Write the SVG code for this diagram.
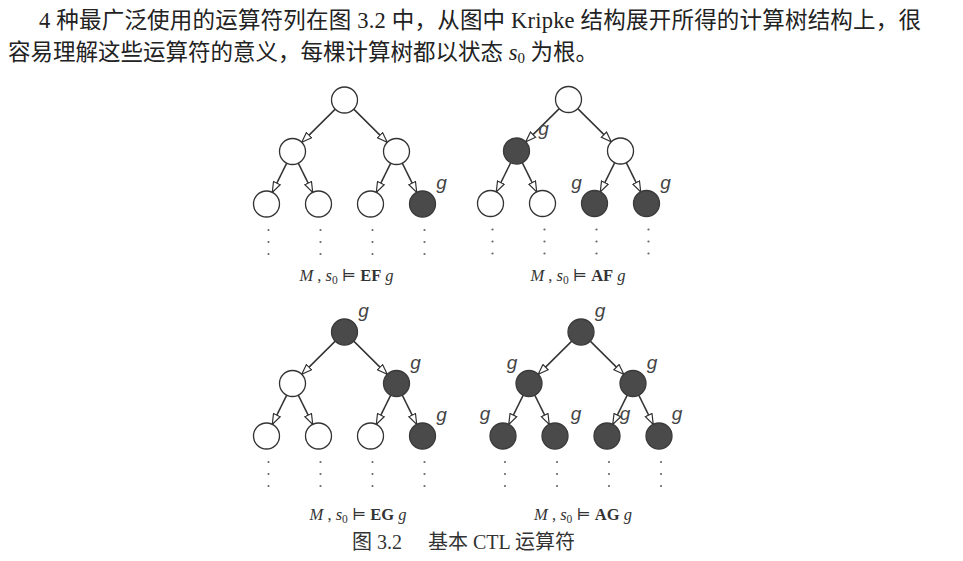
<svg xmlns="http://www.w3.org/2000/svg" width="963" height="561" viewBox="0 0 963 561">
<style>
.bg{fill:#fff}
.para{font-family:"Liberation Serif","Noto Sans CJK SC",serif;font-size:22.5px;fill:#222}
.cap{font-family:"Liberation Serif","Noto Sans CJK SC",serif;font-size:20px;fill:#333}
.lab{font-family:"Liberation Serif","DejaVu Serif",serif;font-size:16.5px;fill:#333}
.it{font-style:italic}
.bf{font-weight:bold}
.sub{font-size:11.5px}
.psub{font-size:15px}
.edge{stroke:#333;stroke-width:1.5;fill:none;marker-end:url(#arr)}
.w{fill:#fff;stroke:#333;stroke-width:1.3}
.d{fill:#4a4a4a;stroke:#3a3a3a;stroke-width:1.3}
.gl{font-family:"Liberation Sans","DejaVu Sans",sans-serif;font-style:italic;font-size:19px;fill:#444;text-anchor:middle}
.dot{fill:#666}
</style>
<defs>
<marker id="arr" viewBox="0 0 12 9" refX="11" refY="4.5" markerWidth="12" markerHeight="9" markerUnits="userSpaceOnUse" orient="auto">
<path d="M0.7,0.8 L11,4.5 L0.7,8.2 z" fill="#fff" stroke="#333" stroke-width="1.2"/>
</marker>
<g id="edges">
<line x1="-9.24" y1="9.15" x2="-42.76" y2="42.35"/>
<line x1="9.24" y1="9.15" x2="42.76" y2="42.35"/>
<line x1="-57.77" y1="63.15" x2="-72.23" y2="92.35"/>
<line x1="-46.23" y1="63.15" x2="-31.77" y2="92.35"/>
<line x1="46.23" y1="63.15" x2="31.77" y2="92.35"/>
<line x1="57.77" y1="63.15" x2="72.23" y2="92.35"/>
</g>
<g id="dots3">
<circle cx="0" cy="130" r="1.1"/>
<circle cx="0" cy="142" r="1.1"/>
<circle cx="0" cy="154" r="1.1"/>
</g>
</defs>
<rect class="bg" x="0" y="0" width="963" height="561"/>

<text class="para" x="39" y="28" textLength="882" lengthAdjust="spacing">4 种最广泛使用的运算符列在图 3.2 中，从图中 Kripke 结构展开所得的计算树结构上，很</text>
<text class="para" x="8" y="60">容易理解这些运算符的意义，每棵计算树都以状态 <tspan class="it">s</tspan><tspan class="psub" dy="3">0</tspan><tspan dy="-3"> 为根。</tspan></text>

<!-- Tree EF -->
<g id="tree-EF" transform="translate(344.5,100)">
<g id="EF-connectors" class="edge"><use href="#edges"/></g>
<g id="EF-root"><circle class="w" cx="0" cy="0" r="13"/></g>
<g id="EF-n1"><circle class="w" cx="-52" cy="51.5" r="13"/></g>
<g id="EF-n2"><circle class="w" cx="52" cy="51.5" r="13"/></g>
<g id="EF-n11"><circle class="w" cx="-78" cy="104" r="13"/></g>
<g id="EF-n12"><circle class="w" cx="-26" cy="104" r="13"/></g>
<g id="EF-n21"><circle class="w" cx="26" cy="104" r="13"/></g>
<g id="EF-n22"><circle class="d" cx="78" cy="104" r="13"/><text class="gl" x="97" y="89">g</text></g>
<g id="EF-dots" class="dot"><use href="#dots3" x="-76"/><use href="#dots3" x="-24"/><use href="#dots3" x="28"/><use href="#dots3" x="80"/></g>
</g>

<!-- Tree AF -->
<g id="tree-AF" transform="translate(568.5,99.5)">
<g id="AF-connectors" class="edge"><use href="#edges"/></g>
<g id="AF-root"><circle class="w" cx="0" cy="0" r="13"/></g>
<g id="AF-n1"><circle class="d" cx="-52" cy="51.5" r="13"/><text class="gl" x="-25" y="35">g</text></g>
<g id="AF-n2"><circle class="w" cx="52" cy="51.5" r="13"/></g>
<g id="AF-n11"><circle class="w" cx="-78" cy="104" r="13"/></g>
<g id="AF-n12"><circle class="w" cx="-26" cy="104" r="13"/></g>
<g id="AF-n21"><circle class="d" cx="26" cy="104" r="13"/><text class="gl" x="8" y="89">g</text></g>
<g id="AF-n22"><circle class="d" cx="78" cy="104" r="13"/><text class="gl" x="97" y="89">g</text></g>
<g id="AF-dots" class="dot"><use href="#dots3" x="-76"/><use href="#dots3" x="-24"/><use href="#dots3" x="28"/><use href="#dots3" x="80"/></g>
</g>

<!-- Tree EG -->
<g id="tree-EG" transform="translate(344.5,332)">
<g id="EG-connectors" class="edge"><use href="#edges"/></g>
<g id="EG-root"><circle class="d" cx="0" cy="0" r="13"/><text class="gl" x="19" y="-15">g</text></g>
<g id="EG-n1"><circle class="w" cx="-52" cy="51.5" r="13"/></g>
<g id="EG-n2"><circle class="d" cx="52" cy="51.5" r="13"/><text class="gl" x="71" y="36.5">g</text></g>
<g id="EG-n11"><circle class="w" cx="-78" cy="104" r="13"/></g>
<g id="EG-n12"><circle class="w" cx="-26" cy="104" r="13"/></g>
<g id="EG-n21"><circle class="w" cx="26" cy="104" r="13"/></g>
<g id="EG-n22"><circle class="d" cx="78" cy="104" r="13"/><text class="gl" x="97" y="89">g</text></g>
<g id="EG-dots" class="dot"><use href="#dots3" x="-76"/><use href="#dots3" x="-24"/><use href="#dots3" x="28"/><use href="#dots3" x="80"/></g>
</g>

<!-- Tree AG -->
<g id="tree-AG" transform="translate(581,332)">
<g id="AG-connectors" class="edge"><use href="#edges"/></g>
<g id="AG-root"><circle class="d" cx="0" cy="0" r="13"/><text class="gl" x="19" y="-15">g</text></g>
<g id="AG-n1"><circle class="d" cx="-52" cy="51.5" r="13"/><text class="gl" x="-69" y="36.5">g</text></g>
<g id="AG-n2"><circle class="d" cx="52" cy="51.5" r="13"/><text class="gl" x="71" y="36.5">g</text></g>
<g id="AG-n11"><circle class="d" cx="-78" cy="104" r="13"/><text class="gl" x="-96" y="88">g</text></g>
<g id="AG-n12"><circle class="d" cx="-26" cy="104" r="13"/><text class="gl" x="-5" y="88">g</text></g>
<g id="AG-n21"><circle class="d" cx="26" cy="104" r="13"/><text class="gl" x="44" y="88">g</text></g>
<g id="AG-n22"><circle class="d" cx="78" cy="104" r="13"/><text class="gl" x="96" y="88">g</text></g>
<g id="AG-dots" class="dot"><use href="#dots3" x="-76"/><use href="#dots3" x="-24"/><use href="#dots3" x="28"/><use href="#dots3" x="80"/></g>
</g>

<!-- formula labels -->
<text class="lab" x="346.5" y="281" text-anchor="middle"><tspan class="it">M</tspan> , <tspan class="it">s</tspan><tspan class="sub" dy="3">0</tspan><tspan dy="-3"> ⊨ </tspan><tspan class="bf">EF</tspan> <tspan class="it">g</tspan></text>
<text class="lab" x="578" y="281" text-anchor="middle"><tspan class="it">M</tspan> , <tspan class="it">s</tspan><tspan class="sub" dy="3">0</tspan><tspan dy="-3"> ⊨ </tspan><tspan class="bf">AF</tspan> <tspan class="it">g</tspan></text>
<text class="lab" x="358" y="519.5" text-anchor="middle"><tspan class="it">M</tspan> , <tspan class="it">s</tspan><tspan class="sub" dy="3">0</tspan><tspan dy="-3"> ⊨ </tspan><tspan class="bf">EG</tspan> <tspan class="it">g</tspan></text>
<text class="lab" x="583" y="519.5" text-anchor="middle"><tspan class="it">M</tspan> , <tspan class="it">s</tspan><tspan class="sub" dy="3">0</tspan><tspan dy="-3"> ⊨ </tspan><tspan class="bf">AG</tspan> <tspan class="it">g</tspan></text>

<text class="cap" y="549"><tspan x="352">图 3.2</tspan><tspan x="428">基本 CTL 运算符</tspan></text>
</svg>
